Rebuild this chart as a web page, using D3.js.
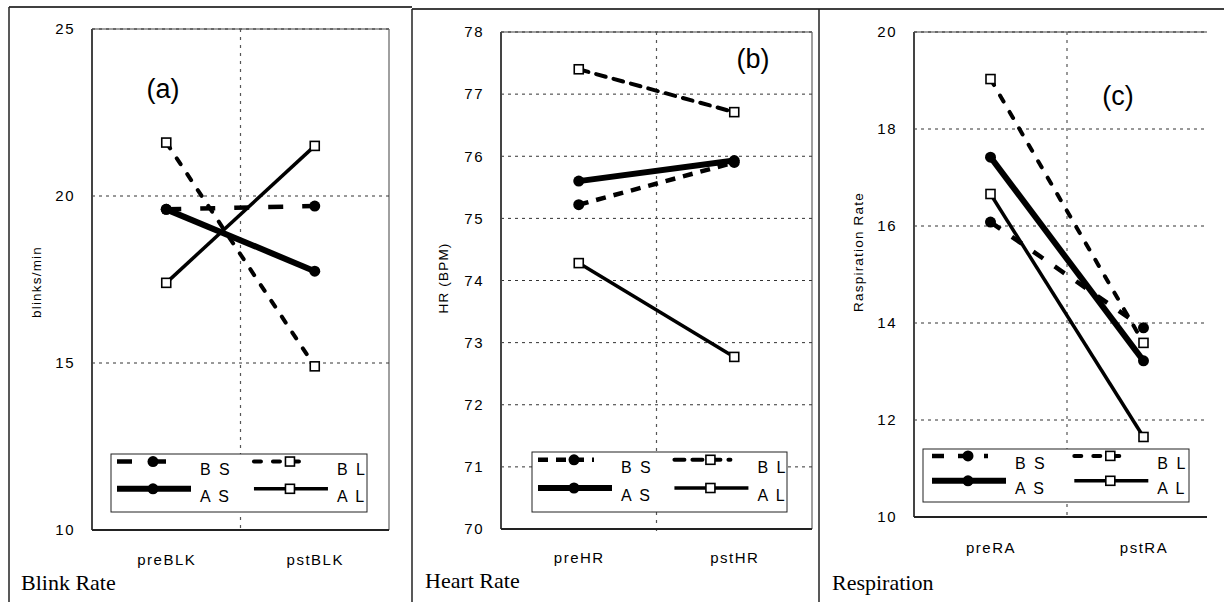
<!DOCTYPE html>
<html>
<head>
<meta charset="utf-8">
<script src="https://cdn.jsdelivr.net/npm/d3@7"></script>
<style>
    body { margin: 0; background: #fff; }
    svg text { font-family: "Liberation Sans", Arial, sans-serif; fill: #000; }
    .caption { font-family: "Liberation Serif", "Times New Roman", serif !important; }
</style>
</head>
<body>
<div id="chart"></div>
<script>

// blink rate (a)
let blinkCategories = ["preBLK", "pstBLK"];
let blinkTicks = [10, 15, 20, 25];
let blinkBS = [19.6, 19.7];
let blinkBL = [21.6, 14.9];
let blinkAS = [19.6, 17.75];
let blinkAL = [17.4, 21.5];

// heart rate (b)
let hrCategories = ["preHR", "pstHR"];
let hrTicks = [70, 71, 72, 73, 74, 75, 76, 77, 78];
let hrBS = [75.22, 75.9];
let hrBL = [77.4, 76.71];
let hrAS = [75.6, 75.93];
let hrAL = [74.28, 72.77];

// respiration (c)
let respCategories = ["preRA", "pstRA"];
let respTicks = [10, 12, 14, 16, 18, 20];
let respBS = [16.08, 13.9];
let respBL = [19.03, 13.59];
let respAS = [17.42, 13.22];
let respAL = [16.66, 11.65];

let seriesKeys = ["BS", "BL", "AS", "AL"];
let seriesLabels = ["B S", "B L", "A S", "A L"];

// how each series is drawn
let seriesStyle = {
    BS: {width: 4.5, cap: "butt", marker: "circle"},
    BL: {width: 4, cap: "round", marker: "square"},
    AS: {width: 6, cap: "butt", marker: "circle"},
    AL: {width: 3.5, cap: "butt", marker: "square"}
};


class PairPanel {

    constructor(svg, categories, ticks, values, layout) {
        this.svg = svg;
        this.categories = categories;
        this.ticks = ticks;
        this.values = values;
        this.layout = layout;

        this.initVis();
    }

    initVis() {
        let vis = this;
        let L = vis.layout;

        vis.g = vis.svg.append("g");

        vis.x = d3.scalePoint()
            .domain(vis.categories)
            .range([L.left, L.right])
            .padding(0.5);

        vis.y = d3.scaleLinear()
            .domain(d3.extent(vis.ticks))
            .range([L.bottom, L.top]);

        let edge = L.clipRight || L.right;

        // outer frame (top + left rule)
        vis.g.append("line")
            .attr("x1", L.frameX).attr("x2", L.frameRight)
            .attr("y1", L.frameTop).attr("y2", L.frameTop)
            .attr("stroke", "#000").attr("stroke-width", 1.3);
        vis.g.append("line")
            .attr("x1", L.frameX).attr("x2", L.frameX)
            .attr("y1", L.frameTop).attr("y2", 602)
            .attr("stroke", "#222").attr("stroke-width", 1.5);

        // plot border, top and right in gray
        vis.g.append("line")
            .attr("x1", L.left).attr("x2", edge)
            .attr("y1", L.top).attr("y2", L.top)
            .attr("stroke", "#a0a0a0").attr("stroke-width", 2);
        if (!L.clipRight) {
            vis.g.append("line")
                .attr("x1", L.right).attr("x2", L.right)
                .attr("y1", L.top).attr("y2", L.bottom)
                .attr("stroke", "#a0a0a0").attr("stroke-width", 2);
        }

        // horizontal grid
        vis.g.selectAll(".hgrid")
            .data(vis.ticks.slice(1))
            .enter()
            .append("line")
            .attr("class", "hgrid")
            .attr("x1", L.left).attr("x2", edge)
            .attr("y1", d => vis.y(d)).attr("y2", d => vis.y(d))
            .attr("stroke", "#333").attr("stroke-width", 1)
            .attr("stroke-dasharray", "3,4");

        // vertical grid between the two categories
        let mid = (vis.x(vis.categories[0]) + vis.x(vis.categories[1])) / 2;
        vis.g.append("line")
            .attr("x1", mid).attr("x2", mid)
            .attr("y1", L.top).attr("y2", L.bottom + 3)
            .attr("stroke", "#555").attr("stroke-width", 1.2)
            .attr("stroke-dasharray", "3,5");

        // axis lines
        vis.g.append("line")
            .attr("x1", L.left).attr("x2", L.left)
            .attr("y1", L.top).attr("y2", L.bottom)
            .attr("stroke", "#444").attr("stroke-width", 2);
        vis.g.append("line")
            .attr("x1", L.left).attr("x2", edge)
            .attr("y1", L.bottom).attr("y2", L.bottom)
            .attr("stroke", "#222").attr("stroke-width", 2);

        // y tick labels
        let yAxis = vis.g.append("g")
            .attr("transform", `translate(${L.left},0)`)
            .call(d3.axisLeft(vis.y).tickValues(vis.ticks).tickSize(0).tickPadding(17));
        yAxis.select(".domain").remove();
        yAxis.selectAll("text")
            .style("font-size", "15px")
            .style("letter-spacing", "1.5px")
            .style("font-family", "Liberation Sans, Arial, sans-serif");

        // category labels
        let xAxis = vis.g.append("g")
            .attr("transform", `translate(0,${L.catY})`)
            .call(d3.axisBottom(vis.x).tickSize(0).tickPadding(0));
        xAxis.select(".domain").remove();
        xAxis.selectAll("text")
            .attr("dy", "0.35em")
            .style("font-size", "15px")
            .style("letter-spacing", "1.5px")
            .style("font-family", "Liberation Sans, Arial, sans-serif");

        // y title
        vis.g.append("text")
            .attr("transform", `translate(${L.titleX},${L.titleY}) rotate(-90)`)
            .attr("text-anchor", "middle")
            .attr("dy", "0.35em")
            .style("font-size", "13.5px")
            .style("letter-spacing", "1.2px")
            .text(L.title);

        // panel tag (a) (b) (c)
        vis.g.append("text")
            .attr("x", L.tagX).attr("y", L.tagY)
            .attr("text-anchor", "middle")
            .style("font-size", "27px")
            .text(L.tag);

        // caption under panel
        vis.g.append("text")
            .attr("class", "caption")
            .attr("x", L.capX).attr("y", L.capY)
            .style("font-size", "22px")
            .text(L.caption);

        vis.updateVis();
    }

    updateVis() {
        let vis = this;
        let L = vis.layout;

        let line = d3.line()
            .x((d, i) => vis.x(vis.categories[i]))
            .y(d => vis.y(d));

        // lines first
        seriesKeys.forEach(key => {
            let st = seriesStyle[key];
            vis.g.append("path")
                .datum(vis.values[key])
                .attr("d", line)
                .attr("fill", "none")
                .attr("stroke", "#000")
                .attr("stroke-width", st.width)
                .attr("stroke-linecap", st.cap)
                .attr("stroke-dasharray", L.dash[key] || null);
        });

        // then markers
        seriesKeys.forEach(key => {
            let st = seriesStyle[key];
            vis.values[key].forEach((v, i) => {
                vis.drawMarker(vis.g, st.marker, vis.x(vis.categories[i]), vis.y(v));
            });
        });

        vis.drawLegend();
    }

    drawMarker(g, type, cx, cy) {
        if (type === "circle") {
            g.append("circle")
                .attr("cx", cx).attr("cy", cy).attr("r", 5.5)
                .attr("fill", "#000");
        } else {
            g.append("rect")
                .attr("x", cx - 4.5).attr("y", cy - 4.5)
                .attr("width", 9).attr("height", 9)
                .attr("fill", "#fff")
                .attr("stroke", "#000").attr("stroke-width", 1.6);
        }
    }

    drawLegend() {
        let vis = this;
        let L = vis.layout;
        let box = L.legend;

        let lg = vis.g.append("g");
        lg.append("rect")
            .attr("x", box.x).attr("y", box.y)
            .attr("width", box.w).attr("height", box.h)
            .attr("fill", "#fff")
            .attr("stroke", "#222").attr("stroke-width", 1);

        seriesKeys.forEach((key, i) => {
            let st = seriesStyle[key];
            let col = i % 2;
            let row = Math.floor(i / 2);
            let x0 = box.x + box.pad + col * box.w * 0.535;
            let ly = box.y + (row === 0 ? 0.13 : 0.6) * box.h;
            let len = row === 0 ? 56 : 74;

            lg.append("line")
                .attr("x1", x0).attr("x2", x0 + len)
                .attr("y1", ly).attr("y2", ly)
                .attr("stroke", "#000")
                .attr("stroke-width", st.width)
                .attr("stroke-linecap", st.cap)
                .attr("stroke-dasharray", L.dash[key] || null);

            vis.drawMarker(lg, st.marker, x0 + 36, ly);

            lg.append("text")
                .attr("x", x0 + 83)
                .attr("y", ly + 13)
                .style("font-size", "16px")
                .style("letter-spacing", "2px")
                .text(seriesLabels[i]);
        });
    }
}


let svg = d3.select("#chart").append("svg")
    .attr("width", 1224)
    .attr("height", 602);

new PairPanel(svg, blinkCategories, blinkTicks,
    {BS: blinkBS, BL: blinkBL, AS: blinkAS, AL: blinkAL},
    {
        frameX: 9, frameTop: 7, frameRight: 412,
        left: 92, top: 29, right: 389, bottom: 530,
        catY: 560,
        title: "blinks/min", titleX: 36, titleY: 282,
        tag: "(a)", tagX: 163, tagY: 98,
        caption: "Blink Rate", capX: 21, capY: 590,
        legend: {x: 111, y: 454, w: 256, h: 58, pad: 6},
        dash: {BS: "15,19", BL: "7,12"}
    });

new PairPanel(svg, hrCategories, hrTicks,
    {BS: hrBS, BL: hrBL, AS: hrAS, AL: hrAL},
    {
        frameX: 412, frameTop: 9, frameRight: 819,
        left: 501, top: 32, right: 812, bottom: 529,
        catY: 558,
        title: "HR (BPM)", titleX: 443, titleY: 278,
        tag: "(b)", tagX: 753, tagY: 68,
        caption: "Heart Rate", capX: 425, capY: 588,
        legend: {x: 532, y: 452, w: 255, h: 60, pad: 6},
        dash: {BS: "10,8", BL: "10,8"}
    });

new PairPanel(svg, respCategories, respTicks,
    {BS: respBS, BL: respBL, AS: respAS, AL: respAL},
    {
        frameX: 819, frameTop: 9, frameRight: 1224,
        left: 914, top: 32, right: 1220, bottom: 517, clipRight: 1207,
        catY: 548,
        title: "Raspiration Rate", titleX: 858, titleY: 252,
        tag: "(c)", tagX: 1118, tagY: 105,
        caption: "Respiration", capX: 832, capY: 590,
        legend: {x: 923, y: 449, w: 266, h: 53, pad: 9},
        dash: {BS: "12,14", BL: "7,12"}
    });

</script>
</body>
</html>
